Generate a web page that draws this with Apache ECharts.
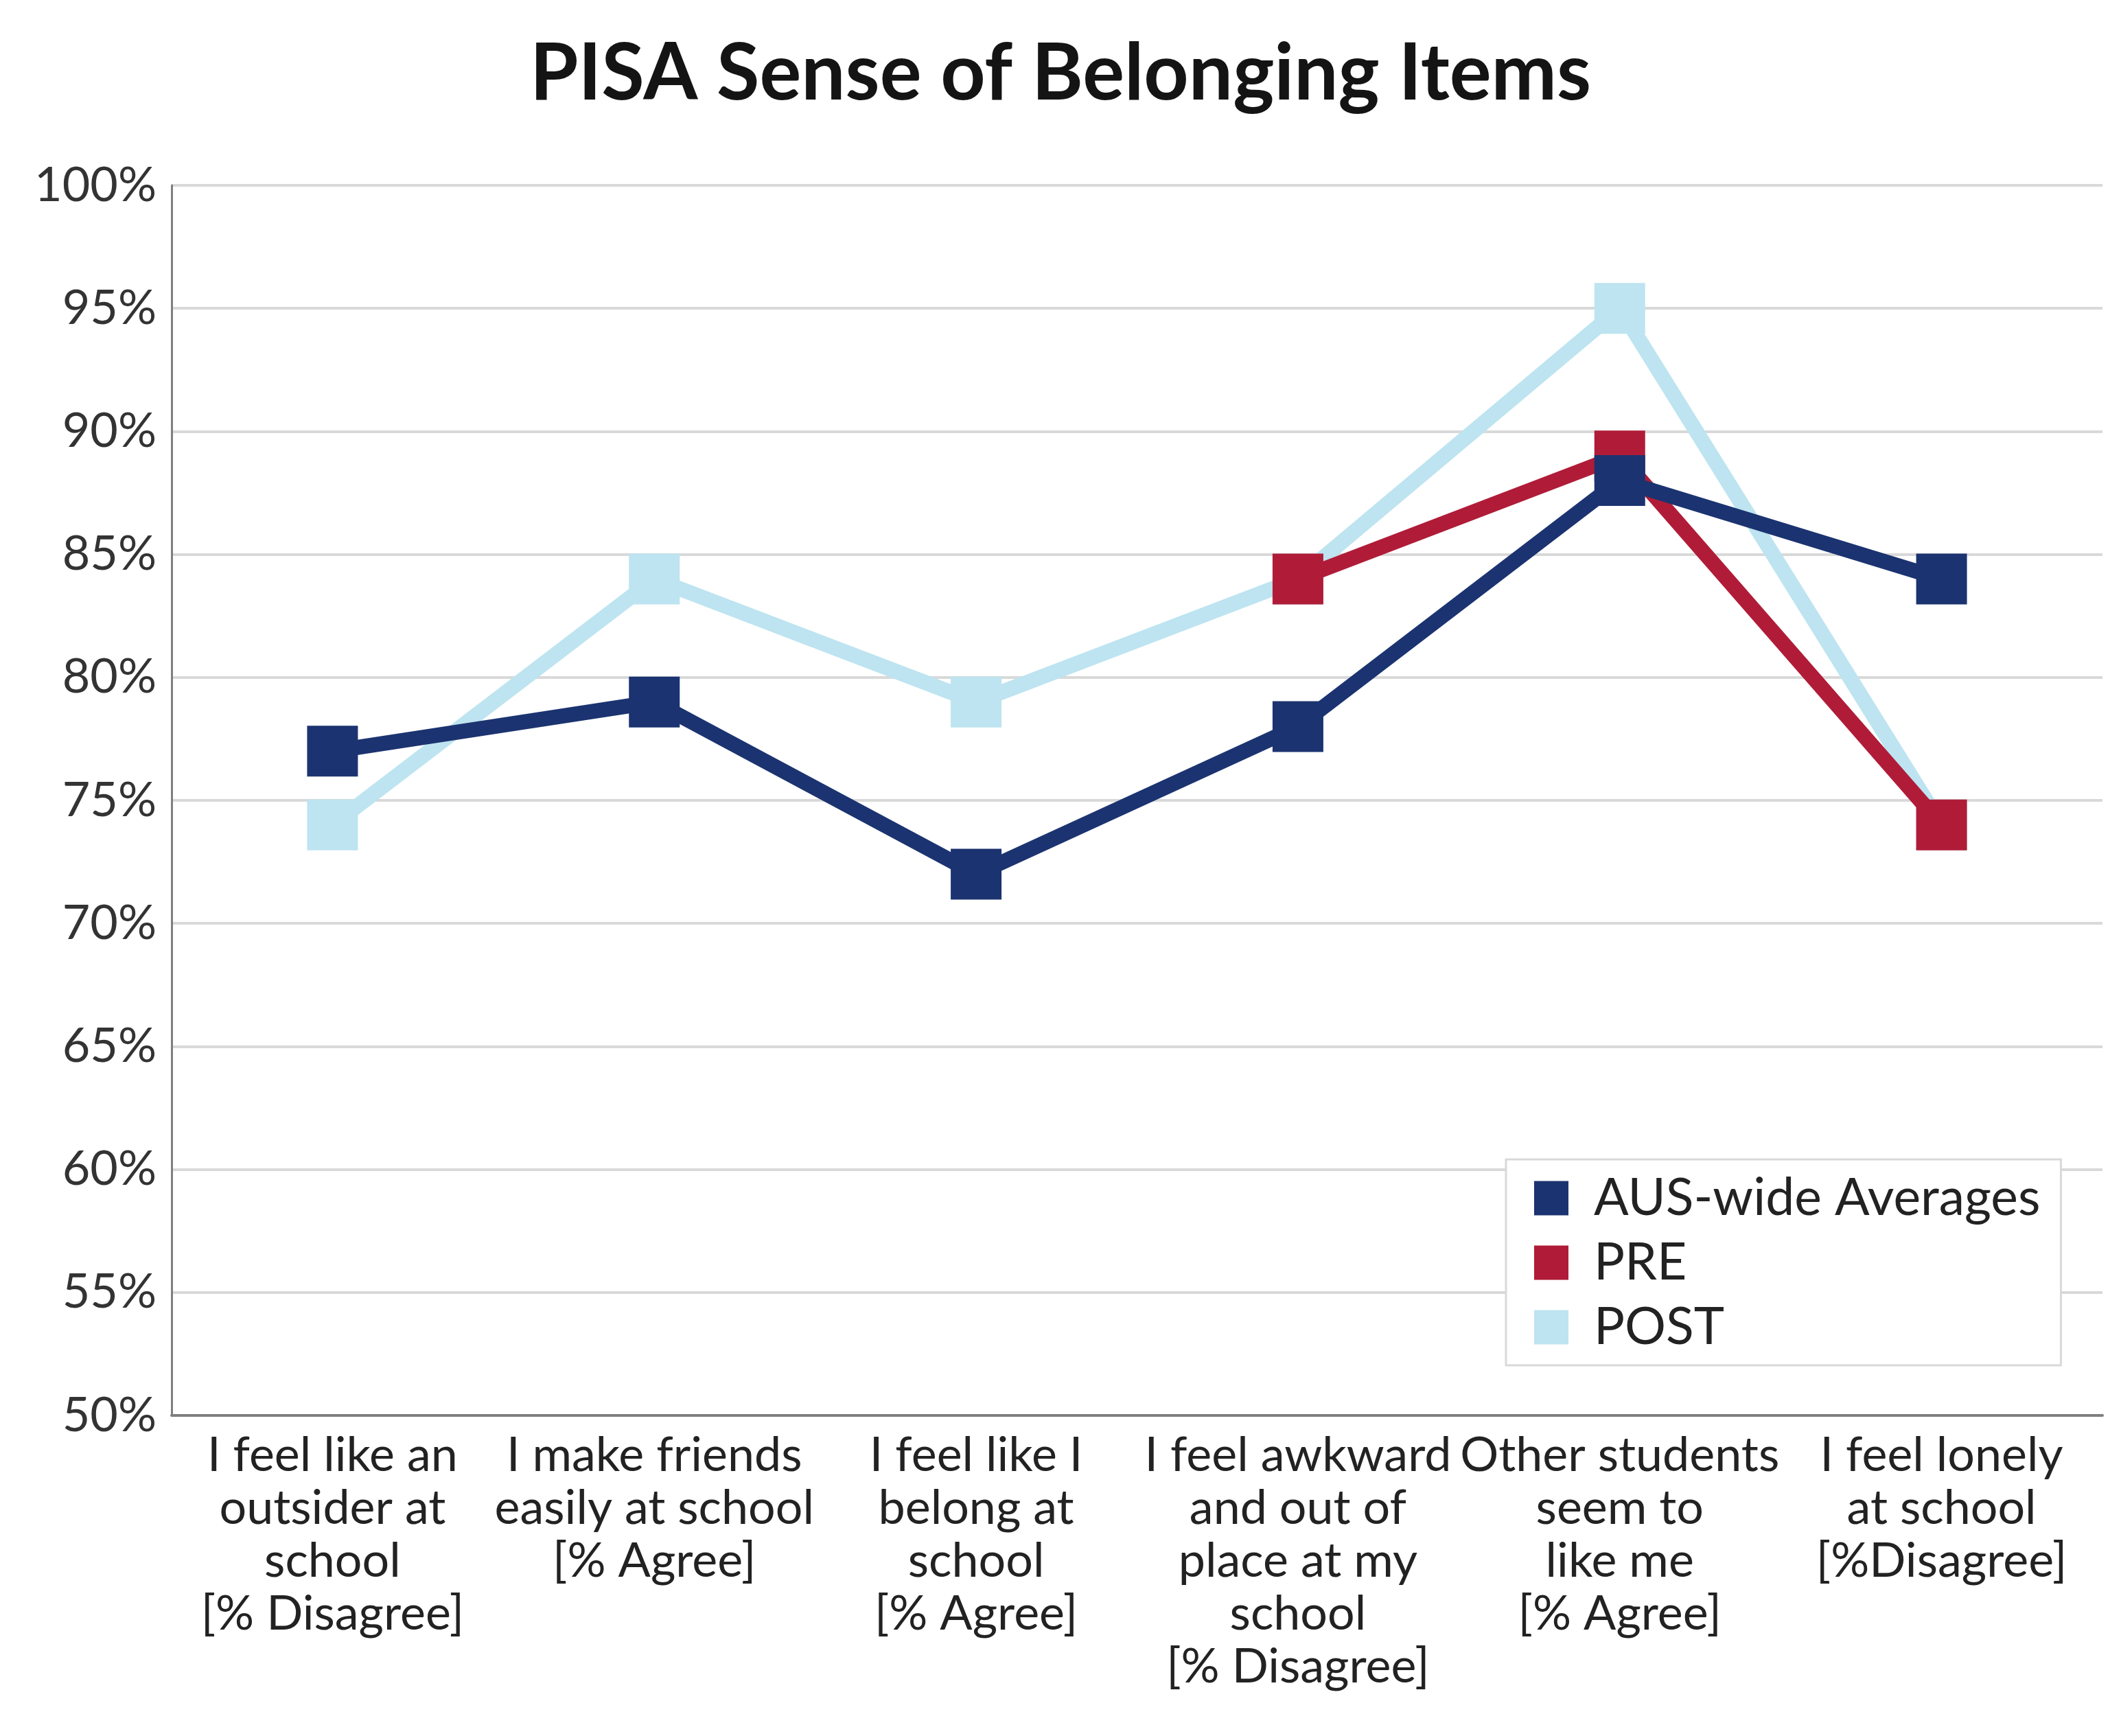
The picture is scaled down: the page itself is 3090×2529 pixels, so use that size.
<!DOCTYPE html>
<html>
<head>
<meta charset="utf-8">
<script src="https://cdn.jsdelivr.net/npm/echarts@6/dist/echarts.min.js"></script>
<style>
html,body{margin:0;padding:0;background:#fff;}
#chart{width:3090px;height:2529px;}
</style>
</head>
<body>
<div id="chart"></div>
<script>
var categories = [
  "I feel like an\noutsider at\nschool\n[% Disagree]",
  "I make friends\neasily at school\n[% Agree]",
  "I feel like I\nbelong at\nschool\n[% Agree]",
  "I feel awkward\nand out of\nplace at my\nschool\n[% Disagree]",
  "Other students\nseem to\nlike me\n[% Agree]",
  "I feel lonely\nat school\n[%Disagree]"
];
var ausValues = [77, 79, 72, 78, 88, 84];
var preValues = [null, null, null, 84, 89, 74];
var postValues = [74, 84, 79, 84, 95, 74];
var seriesNames = ["AUS-wide Averages", "PRE", "POST"];
var titleText = "PISA Sense of Belonging Items";

var chart = echarts.init(document.getElementById('chart'));
var FONT = 'Lato, "Open Sans", sans-serif';
function mk(name, data, color, z) {
  return {
    name: name, type: 'line', data: data, z: z,
    symbol: 'rect', symbolSize: 74,
    itemStyle: {color: color},
    lineStyle: {color: color, width: 22},
    emphasis: {disabled: true},
    connectNulls: false
  };
}
chart.setOption({
  animation: false,
  backgroundColor: '#ffffff',
  title: {
    text: titleText, left: 'center', top: 46,
    textStyle: {fontFamily: FONT, fontSize: 114, fontWeight: 'bold', color: '#141414'}
  },
  grid: {left: 250, right: 27, top: 270, bottom: 467, containLabel: false},
  legend: {
    orient: 'vertical', left: 2194, top: 1689,
    icon: 'rect', itemWidth: 50, itemHeight: 50, itemGap: 19,
    padding: [19, 30, 18, 41],
    borderColor: '#d9d9d9', borderWidth: 3, backgroundColor: '#ffffff',
    textStyle: {fontFamily: FONT, fontSize: 75, color: '#222222', padding: [0, 0, 0, 32]},
    data: seriesNames
  },
  xAxis: {
    type: 'category', data: categories, boundaryGap: true,
    axisLine: {lineStyle: {color: '#7f7f7f', width: 4}},
    axisTick: {show: false},
    axisLabel: {fontFamily: FONT, fontSize: 70, color: '#222222', lineHeight: 77, margin: 20, interval: 0}
  },
  yAxis: {
    type: 'value', min: 50, max: 100, interval: 5,
    axisLine: {show: true, lineStyle: {color: '#7f7f7f', width: 3}},
    axisTick: {show: false},
    splitLine: {lineStyle: {color: '#d9d9d9', width: 4}},
    axisLabel: {fontFamily: FONT, fontSize: 70, color: '#333333', margin: 22, formatter: '{value}%'}
  },
  series: [
    mk(seriesNames[0], ausValues, '#1b3370', 5),
    mk(seriesNames[1], preValues, '#b01c38', 4),
    mk(seriesNames[2], postValues, '#bde4f0', 3)
  ]
});
</script>
</body>
</html>
